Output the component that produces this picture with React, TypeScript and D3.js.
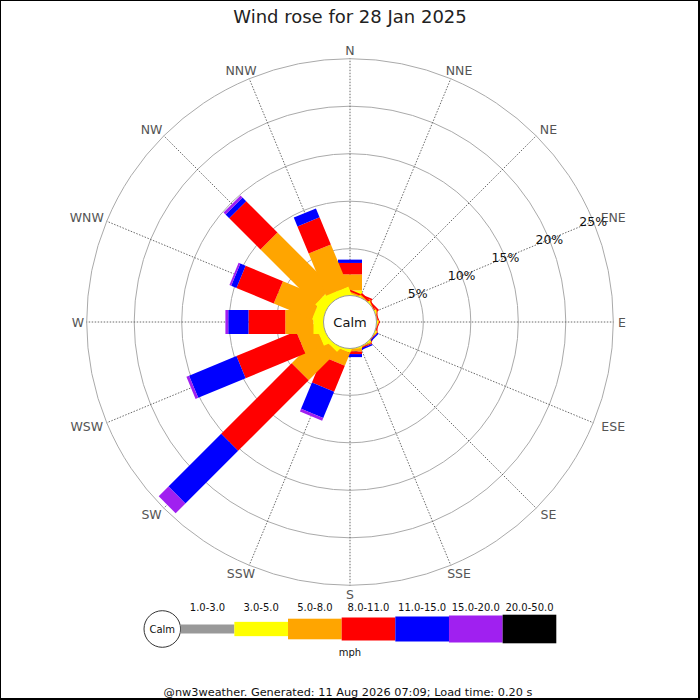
import React from "react";
import * as d3 from "d3";

// compass points, clockwise from north
const directions = [
  "N", "NNE", "NE", "ENE", "E", "ESE", "SE", "SSE",
  "S", "SSW", "SW", "WSW", "W", "WNW", "NW", "NNW",
];

// speed bands (mph) and their colours
const speedBands = ["1.0-3.0", "3.0-5.0", "5.0-8.0", "8.0-11.0", "11.0-15.0", "15.0-20.0", "20.0-50.0"];
const bandColors = ["#999999", "#ffff00", "#ffa500", "#ff0000", "#0000ff", "#a020f0", "#000000"];

// % of the day per direction, one list per speed band
const band1to3 = [0, 0, 0, 0, 0, 0, 0, 0, 0, 0, 0, 0, 0, 0, 0, 0];
const band3to5 = [0.6, 0.1, 0.05, 0.05, 0.05, 0.05, 0.05, 0.1, 0.1, 0.3, 0.5, 0.8, 1.15, 1.1, 1.2, 0.8];
const band5to8 = [1.7, 0.15, 0.1, 0.05, 0.05, 0.05, 0.05, 0.1, 0.3, 1.45, 4.2, 2.1, 2.95, 4.35, 8.15, 4.8];
const band8to11 = [1.2, 0.18, 0.2, 0.1, 0.08, 0.1, 0.05, 0.1, 0.26, 2.95, 10.5, 6.8, 3.87, 4.25, 4.65, 3.1];
const band11to15 = [0.35, 0, 0, 0, 0, 0, 0.15, 0.15, 0.32, 3.0, 7.85, 5.4, 2.13, 0.6, 0.55, 1.0];
const band15to20 = [0, 0, 0, 0, 0, 0, 0, 0, 0, 0.3, 1.45, 0.3, 0.3, 0.2, 0.3, 0];
const band20to50 = [0, 0, 0, 0, 0, 0, 0, 0, 0, 0, 0, 0, 0, 0, 0, 0];

const percentTicks = [5, 10, 15, 20, 25];

const titleText = "Wind rose for 28 Jan 2025";
const footerText = "@nw3weather. Generated: 11 Aug 2026 07:09; Load time: 0.20 s";

const W = 700;
const H = 700;
const cx = 350;
const cy = 322;
const barWidth = 24;
const font = "DejaVu Sans, sans-serif";

const App = () => {
  const bands = [band1to3, band3to5, band5to8, band8to11, band11to15, band15to20, band20to50];
  const rows = directions.map((dir, i) => {
    const row: any = { dir };
    speedBands.forEach((b, k) => (row[b] = bands[k][i]));
    return row;
  });
  const series = d3.stack<any>().keys(speedBands)(rows);

  const r = d3.scaleLinear().domain([0, 25]).range([25.8, 263.3]);
  const angle = d3.scaleLinear().domain([0, directions.length]).range([0, 2 * Math.PI]);

  // rectangle along the direction axis from r0 to r1
  const barPoints = (i: number, r0: number, r1: number) => {
    const a = angle(i);
    const ux = Math.sin(a), uy = -Math.cos(a);
    const vx = Math.cos(a), vy = Math.sin(a);
    const hw = barWidth / 2;
    return [
      [r0 * ux - hw * vx, r0 * uy - hw * vy],
      [r1 * ux - hw * vx, r1 * uy - hw * vy],
      [r1 * ux + hw * vx, r1 * uy + hw * vy],
      [r0 * ux + hw * vx, r0 * uy + hw * vy],
    ].map((p) => p.join(",")).join(" ");
  };

  const bars: JSX.Element[] = [];
  directions.forEach((dir, i) => {
    series.forEach((s, k) => {
      const [y0, y1] = s[i];
      if (y1 - y0 <= 0) return;
      const r0 = y0 === 0 ? 0 : r(y0);
      bars.push(
        <polygon key={`${dir}-${k}`} points={barPoints(i, r0, r(y1))} fill={bandColors[k]} />
      );
    });
  });

  // legend
  const legendX = d3.scaleBand().domain(speedBands).range([180.7, 556.3]);
  const legendH = [9, 14.3, 20.6, 23, 25, 27, 28.6];
  const legendY = 629;

  const labelR = 272;
  const tickAngle = angle(3); // ENE

  return (
    <div style={{ position: "absolute", left: 0, top: 0 }}>
      <svg width={W} height={H} style={{ display: "block", fontFamily: font }}>
        <rect x={0} y={0} width={W} height={H} fill="#fff" />
        <text x={cx} y={23.3} textAnchor="middle" fontSize={18} fill="#222">
          {titleText}
        </text>

        <g transform={`translate(${cx},${cy})`}>
          {percentTicks.map((t) => (
            <circle key={t} r={r(t)} fill="none" stroke="#aaa" strokeWidth={1} />
          ))}
          {directions.map((d, i) => {
            const a = angle(i);
            return (
              <line
                key={d}
                x1={r(0) * Math.sin(a)}
                y1={-r(0) * Math.cos(a)}
                x2={r(25) * Math.sin(a)}
                y2={-r(25) * Math.cos(a)}
                stroke="#444"
                strokeWidth={0.8}
                strokeDasharray="1.5,1.5"
              />
            );
          })}
          {bars}
          {directions.map((d, i) => {
            const a = angle(i);
            const s = Math.sin(a), c = Math.cos(a);
            const cardinal = i % 4 === 0;
            const off = cardinal ? 0 : Math.sign(s) * d.length * 4.3 * Math.abs(s);
            return (
              <text
                key={d}
                x={labelR * s + off}
                y={-labelR * c}
                textAnchor="middle"
                dominantBaseline="central"
                fontSize={12.5}
                fill="#555"
              >
                {d}
              </text>
            );
          })}
          {percentTicks.map((t) => (
            <text
              key={t}
              x={r(t) * Math.sin(tickAngle)}
              y={-r(t) * Math.cos(tickAngle)}
              textAnchor="middle"
              dominantBaseline="central"
              fontSize={12.5}
              fill="#111"
            >
              {`${t}%`}
            </text>
          ))}
          <circle r={26.5} fill="#fff" stroke="#999" strokeWidth={1} />
          <text textAnchor="middle" dominantBaseline="central" fontSize={13} fill="#111">
            Calm
          </text>
        </g>

        {/* legend */}
        <circle cx={162.3} cy={legendY} r={18.3} fill="#fff" stroke="#333" strokeWidth={1} />
        <text x={162.3} y={legendY} textAnchor="middle" dominantBaseline="central" fontSize={10} fill="#111">
          Calm
        </text>
        {speedBands.map((b, k) => (
          <g key={b}>
            <rect
              x={legendX(b)!}
              y={legendY - legendH[k] / 2}
              width={legendX.bandwidth()}
              height={legendH[k]}
              fill={bandColors[k]}
            />
            <text
              x={legendX(b)! + legendX.bandwidth() / 2}
              y={610.7}
              textAnchor="middle"
              fontSize={10}
              fill="#111"
            >
              {b}
            </text>
          </g>
        ))}
        <text x={350} y={655.7} textAnchor="middle" fontSize={10} fill="#111">
          mph
        </text>

        <text x={348} y={696} textAnchor="middle" fontSize={11.3} fill="#111">
          {footerText}
        </text>
        <rect x={0} y={0} width={W - 1} height={H - 1} fill="none" stroke="#000" strokeWidth={2} />
      </svg>
    </div>
  );
};

export default App;
